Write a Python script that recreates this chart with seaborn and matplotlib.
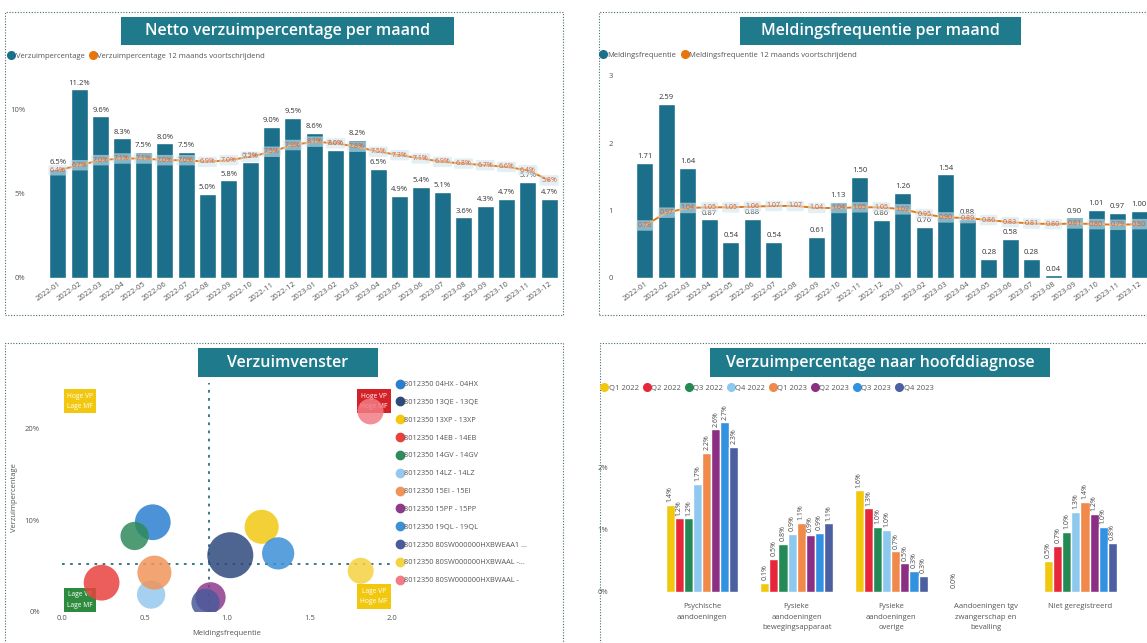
import numpy as np
import pandas as pd
import matplotlib
matplotlib.use("Agg")
import matplotlib.pyplot as plt
import seaborn as sns
from matplotlib.patches import Rectangle
from matplotlib.lines import Line2D
from matplotlib.ticker import FuncFormatter

maanden = ["2022-01", "2022-02", "2022-03", "2022-04", "2022-05", "2022-06",
           "2022-07", "2022-08", "2022-09", "2022-10", "2022-11", "2022-12",
           "2023-01", "2023-02", "2023-03", "2023-04", "2023-05", "2023-06",
           "2023-07", "2023-08", "2023-09", "2023-10", "2023-11", "2023-12"]
verzuim_pct = [6.5, 11.2, 9.6, 8.3, 7.5, 8.0, 7.5, 5.0, 5.8, 6.9, 9.0, 9.5,
               8.6, 7.6, 8.2, 6.5, 4.9, 5.4, 5.1, 3.6, 4.3, 4.7, 5.7, 4.7]
verzuim_12m = [6.4, 6.7, 7.0, 7.1, 7.1, 7.0, 7.0, 6.9, 7.0, 7.2, 7.5, 7.9,
               8.1, 8.0, 7.8, 7.5, 7.3, 7.1, 6.9, 6.8, 6.7, 6.6, 6.4, 5.8]
melding_freq = [1.71, 2.59, 1.64, 0.87, 0.54, 0.88, 0.54, np.nan, 0.61, 1.13, 1.50, 0.86,
                1.26, 0.76, 1.54, 0.88, 0.28, 0.58, 0.28, 0.04, 0.90, 1.01, 0.97, 1.00]
melding_12m = [0.78, 0.97, 1.04, 1.05, 1.05, 1.06, 1.07, 1.07, 1.04, 1.04, 1.05, 1.05,
               1.02, 0.95, 0.90, 0.89, 0.86, 0.83, 0.81, 0.80, 0.81, 0.80, 0.79, 0.80]

teams = ["8012350 04HX - 04HX", "8012350 13QE - 13QE", "8012350 13XP - 13XP",
         "8012350 14EB - 14EB", "8012350 14GV - 14GV", "8012350 14LZ - 14LZ",
         "8012350 15EI - 15EI", "8012350 15PP - 15PP", "8012350 19QL - 19QL",
         "8012350 80SW000000HXBWEAA1 ...", "8012350 80SW000000HXBWAAL -...",
         "8012350 80SW000000HXBWAAL -"]
team_freq = [0.55, 1.02, 1.21, 0.24, 0.44, 0.54, 0.56, 0.90, 1.31, 0.87, 1.81, 1.87]
team_pct = [9.8, 6.2, 9.3, 3.2, 8.3, 1.9, 4.3, 1.6, 6.4, 1.0, 4.5, 21.9]
team_omvang = [32, 53, 29, 32, 20, 20, 29, 23, 26, 20, 17, 17]
team_kleuren = ["#2b7fd0", "#2e4a7d", "#f2c811", "#e8423f", "#2f8a5c", "#95c8ee",
                "#f0955a", "#8e3a8c", "#3d8fd6", "#4a5a9a", "#f5d33f", "#f27b84"]
gem_freq = 0.89
gem_pct = 5.2

kwartalen = ["Q1 2022", "Q2 2022", "Q3 2022", "Q4 2022",
             "Q1 2023", "Q2 2023", "Q3 2023", "Q4 2023"]
kw_kleuren = ["#f2c80f", "#e8263a", "#238a55", "#8dc8ee",
              "#f0894a", "#8b2f84", "#3291e0", "#4c5fa0"]
diagnoses = ["Psychische\naandoeningen", "Fysieke\naandoeningen\nbewegingsapparaat",
             "Fysieke\naandoeningen\noverige", "Aandoeningen tgv\nzwangerschap en\nbevalling",
             "Niet geregistreerd"]
psychisch = [1.4, 1.18, 1.18, 1.73, 2.23, 2.61, 2.72, 2.33]
bewegingsapp = [0.14, 0.53, 0.77, 0.93, 1.11, 0.92, 0.95, 1.10]
fysiek_overig = [1.63, 1.34, 1.04, 1.0, 0.65, 0.46, 0.34, 0.26]
zwangerschap = [0.02, np.nan, np.nan, np.nan, np.nan, np.nan, np.nan, np.nan]
niet_geregistreerd = [0.5, 0.74, 0.97, 1.29, 1.45, 1.25, 1.04, 0.79]

TEAL = "#1c6f8b"
TITEL = "#1f7a8c"
ORANJE = "#e8750a"
GRIJS = "#555555"

sns.set_theme(style="white")
plt.rcParams["font.family"] = ["Open Sans", "DejaVu Sans"]

W, H = 1147, 643
fig = plt.figure(figsize=(W / 100, H / 100), dpi=100)
fig.patch.set_facecolor("white")


def rect(x0, y0, x1, y1):
    return [x0 / W, 1 - y1 / H, (x1 - x0) / W, (y1 - y0) / H]


def titel(tekst, x0, y0, x1, y1):
    fig.add_artist(Rectangle((x0 / W, 1 - y1 / H), (x1 - x0) / W, (y1 - y0) / H,
                             transform=fig.transFigure, fc=TITEL, ec="none", zorder=5))
    fig.text((x0 + x1) / 2 / W, 1 - (y0 + y1) / 2 / H, tekst, ha="center", va="center",
             color="white", fontsize=11.5, fontweight="semibold", zorder=6)


def kader(x0, y0, x1, y1):
    fig.add_artist(Rectangle((x0 / W, 1 - y1 / H), (x1 - x0) / W, (y1 - y0) / H,
                             transform=fig.transFigure, fill=False, ec="#4a6a75",
                             lw=0.8, ls=(0, (1, 1.5)), zorder=1))


def legenda(labels, kleuren, x, y, ncol, **kw):
    handles = [Line2D([], [], marker="o", ls="", color=c, ms=5.5, label=l)
               for l, c in zip(labels, kleuren)]
    fig.legend(handles=handles, loc="center left", bbox_to_anchor=(x / W, 1 - y / H),
               ncol=ncol, frameon=False, fontsize=5.5, handletextpad=0.1,
               columnspacing=0.6, borderaxespad=0, borderpad=0, handlelength=0.9,
               labelcolor=GRIJS, **kw)


def stijl(ax, ypad=2):
    sns.despine(ax=ax, left=True, bottom=True)
    ax.tick_params(length=0, labelsize=5.5, labelcolor=GRIJS, pad=2)
    ax.tick_params(axis="y", pad=ypad)
    ax.set_xlabel("")
    ax.set_ylabel("")
    ax.grid(False)


def maand_grafiek(ax, waarden, lijn, fmt_bar, fmt_lijn):
    df = pd.DataFrame({"maand": maanden, "waarde": waarden})
    sns.barplot(data=df, x="maand", y="waarde", color=TEAL, saturation=1,
                width=0.8, ax=ax)
    sns.lineplot(x=np.arange(len(maanden)), y=lijn, color=ORANJE, lw=1.4, ax=ax)
    cont = ax.containers[0]
    ax.bar_label(cont, labels=[fmt_bar(b.get_height()) if np.isfinite(b.get_height()) else ""
                               for b in cont], padding=2, fontsize=5.5, color="#333333")
    for i, v in enumerate(lijn):
        ax.annotate(fmt_lijn(v), (i, v), ha="center", va="center", fontsize=5,
                    color="#e05a2b", zorder=6,
                    bbox=dict(boxstyle="round,pad=0.25", fc="#cfe6ee", ec="none", alpha=0.6))
    ax.set_xticks(range(len(maanden)))
    ax.set_xticklabels(maanden, rotation=35, ha="right", rotation_mode="anchor")


# ---- paneel 1: Netto verzuimpercentage per maand ----
kader(5, 12, 563, 315)
ax1 = fig.add_axes(rect(43, 76, 562, 278))
maand_grafiek(ax1, verzuim_pct, verzuim_12m, lambda v: f"{v:.1f}%", lambda v: f"{v:.1f}%")
stijl(ax1, ypad=13)
ax1.set_xlim(-0.7, 23.6)
ax1.set_ylim(0, 12)
ax1.set_yticks([0, 5, 10])
ax1.yaxis.set_major_formatter(FuncFormatter(lambda v, p: f"{v:.0f}%"))
titel("Netto verzuimpercentage per maand", 121, 17, 454, 45)
legenda(["Verzuimpercentage", "Verzuimpercentage 12 maands voortschrijdend"],
        [TEAL, ORANJE], 8, 56, 2)

# ---- paneel 2: Meldingsfrequentie per maand ----
kader(599, 12, 1160, 315)
ax2 = fig.add_axes(rect(632, 76, 1152, 278))
maand_grafiek(ax2, melding_freq, melding_12m, lambda v: f"{v:.2f}", lambda v: f"{v:.2f}")
stijl(ax2, ypad=14)
ax2.set_xlim(-0.6, 23.6)
ax2.set_ylim(0, 3)
ax2.set_yticks([0, 1, 2, 3])
titel("Meldingsfrequentie per maand", 740, 17, 1021, 45)
legenda(["Meldingsfrequentie", "Meldingsfrequentie 12 maands voortschrijdend"],
        [TEAL, ORANJE], 600, 55, 2)

# ---- paneel 3: Verzuimvenster ----
kader(5, 343, 563, 660)
ax3 = fig.add_axes(rect(62, 383, 392, 612))
ax3.axvline(gem_freq, color="#2a6f80", ls=(0, (1.5, 3)), lw=1.3, zorder=1)
ax3.axhline(gem_pct, color="#2a6f80", ls=(0, (1.5, 3)), lw=1.3, zorder=1)
kwadrant = dict(ha="center", va="center", fontsize=4.8, color="white", linespacing=1.7)
ax3.text(0.11, 23.0, "Hoge VP\nLage MF", zorder=2,
         bbox=dict(boxstyle="square,pad=0.5", fc="#f2c80f", ec="none"), **kwadrant)
ax3.text(1.89, 23.0, "Hoge VP\nHoge MF", zorder=2,
         bbox=dict(boxstyle="square,pad=0.5", fc="#d42027", ec="none"), **kwadrant)
ax3.text(0.11, 1.3, "Lage VP\nLage MF", zorder=2,
         bbox=dict(boxstyle="square,pad=0.5", fc="#2e8b3e", ec="none"), **kwadrant)
ax3.text(1.89, 1.7, "Lage VP\nHoge MF", zorder=4,
         bbox=dict(boxstyle="square,pad=0.5", fc="#f2c80f", ec="none"), **kwadrant)
df3 = pd.DataFrame({"team": teams, "freq": team_freq, "pct": team_pct, "omvang": team_omvang})
sns.scatterplot(data=df3, x="freq", y="pct", hue="team", palette=team_kleuren,
                size="omvang", sizes=(0, 2070), size_norm=(0, 100), alpha=0.85,
                edgecolor="none", legend=False, zorder=3, ax=ax3)
ax3.set_xlim(0, 2.0)
ax3.set_ylim(0, 25)
ax3.set_xticks([0, 0.5, 1.0, 1.5, 2.0])
ax3.xaxis.set_major_formatter(FuncFormatter(lambda v, p: f"{v:.1f}"))
ax3.set_yticks([0, 10, 20])
ax3.yaxis.set_major_formatter(FuncFormatter(lambda v, p: f"{v:.0f}%"))
stijl(ax3, ypad=16)
ax3.set_xlabel("Meldingsfrequentie", fontsize=5.5, color=GRIJS, labelpad=6)
ax3.set_ylabel("Verzuimpercentage", fontsize=5.5, color=GRIJS, labelpad=5)
titel("Verzuimvenster", 198, 348, 378, 377)
handles3 = [Line2D([], [], marker="o", ls="", color=c, ms=6, label=t)
            for t, c in zip(teams, team_kleuren)]
fig.legend(handles=handles3, loc="upper left", bbox_to_anchor=(397 / W, 1 - 381 / H),
           frameon=False, fontsize=5.3, handletextpad=0.1, labelspacing=1.45,
           borderaxespad=0, borderpad=0, handlelength=0.9, labelcolor=GRIJS)

# ---- paneel 4: Verzuimpercentage naar hoofddiagnose ----
kader(600, 343, 1160, 660)
ax4 = fig.add_axes(rect(625, 405, 1140, 592))
reeksen = [psychisch, bewegingsapp, fysiek_overig, zwangerschap, niet_geregistreerd]
df4 = pd.DataFrame([{"diagnose": d, "kwartaal": k, "pct": v}
                    for d, r in zip(diagnoses, reeksen) for k, v in zip(kwartalen, r)])
sns.barplot(data=df4, x="diagnose", y="pct", hue="kwartaal", hue_order=kwartalen,
            palette=kw_kleuren, saturation=1, width=0.77, legend=False, ax=ax4)
for cont in ax4.containers:
    ax4.bar_label(cont, labels=[f"{b.get_height():.1f}%" if np.isfinite(b.get_height()) else ""
                                for b in cont],
                  rotation=90, padding=2, fontsize=5, color="#444444")
ax4.set_xlim(-0.815, 4.63)
ax4.set_ylim(0, 3.0)
ax4.set_yticks([0, 1, 2])
ax4.yaxis.set_major_formatter(FuncFormatter(lambda v, p: f"{v:.0f}%"))
ax4.set_xticks(range(len(diagnoses)))
ax4.set_xticklabels(diagnoses, linespacing=1.7, va="top")
stijl(ax4, ypad=12)
ax4.tick_params(axis="x", pad=8)
titel("Verzuimpercentage naar hoofddiagnose", 710, 348, 1050, 377)
legenda(kwartalen, kw_kleuren, 601, 388, 8)

fig.savefig("out.png", dpi=100, facecolor="white")
